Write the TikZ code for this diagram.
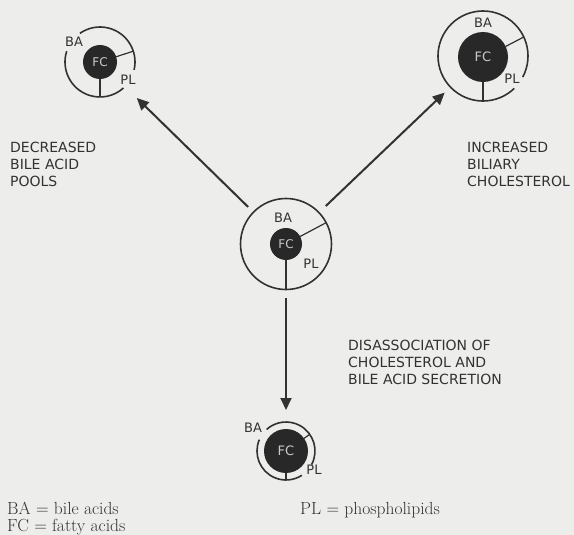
\documentclass[tikz,border=0pt]{standalone}
\usepackage{fontspec}
\newfontfamily\lettering{DejaVu Sans}
\usetikzlibrary{arrows.meta}
\definecolor{paper}{RGB}{237,237,235}
\definecolor{ink}{RGB}{50,50,50}
\definecolor{corefill}{RGB}{40,40,40}
\tikzset{
  ring/.style={circle, inner sep=0pt, outer sep=0pt, minimum size=#1},
  coredisk/.style={circle, fill=corefill, inner sep=0pt, outer sep=0pt, minimum size=#1, text=paper!85!black, font=\lettering\fontsize{12}{12}\selectfont},
  rim/.style={draw=ink, line width=1.6pt},
  spoke/.style={draw=ink, line width=1.2pt},
  lab/.style={text=ink, font=\lettering\fontsize{13}{13}\selectfont, inner sep=0pt},
  caption/.style={text=ink, font=\lettering\fontsize{14}{17}\selectfont, align=left, inner sep=0pt, anchor=north west},
  legend/.style={text=ink, font=\fontsize{17.5}{17}\selectfont, inner sep=0pt, anchor=base west},
  flow/.style={draw=ink, line width=2pt, -{Triangle[length=12pt,width=11pt]}},
}
\begin{document}
\begin{tikzpicture}[x=1pt,y=1pt]
\fill[paper] (0,0) rectangle (574,-535);
\useasboundingbox (0,0) rectangle (574,-535);

% top-left: decreased bile acid pools
\node[ring=70pt] (c1) at (100,-62) {};
\node[coredisk=34pt] (f1) at (100,-62) {FC};
\draw[rim] (c1.-13) arc[start angle=-13,end angle=125,radius=35pt];
\draw[rim] (c1.162) arc[start angle=162,end angle=312,radius=35pt];
\draw[spoke] (f1.18) -- (c1.18);
\draw[spoke] (f1.south) -- (c1.south);
\node[lab] (b1) at (74,-42) {BA};
\node[lab] (p1) at (128,-80) {PL};

% top-right: increased biliary cholesterol
\node[ring=90pt] (c2) at (483,-56) {};
\node[coredisk=50pt, font=\lettering\fontsize{13}{13}\selectfont] (f2) at (483,-57) {FC};
\draw[rim] (c2.-28) arc[start angle=-28,end angle=314,radius=45pt];
\draw[spoke] (f2.25) -- (c2.25);
\draw[spoke] (f2.south) -- (c2.south);
\node[lab] (b2) at (483,-23) {BA};
\node[lab] (p2) at (512,-79) {PL};

% centre: normal bile
\node[ring=91pt] (c3) at (286,-244) {};
\node[coredisk=32pt] (f3) at (286,-244) {FC};
\draw[rim] (c3.center) circle[radius=45.5pt];
\draw[spoke] (f3.28) -- (c3.28);
\draw[spoke] (f3.south) -- (c3.south);
\node[lab] (b3) at (283,-218) {BA};
\node[lab] (p3) at (311,-264) {PL};

% bottom: dissociation
\node[ring=58pt] (c4) at (286,-451) {};
\node[coredisk=44pt, font=\lettering\fontsize{13}{13}\selectfont] (f4) at (286,-451) {FC};
\draw[rim] (c4.-28) arc[start angle=-28,end angle=132,radius=29pt];
\draw[rim] (c4.157) arc[start angle=157,end angle=303,radius=29pt];
\draw[spoke] (f4.35) -- (c4.35);
\draw[spoke] (f4.south) -- (c4.south);
\node[lab] (b4) at (253,-428) {BA};
\node[lab] (p4) at (314,-470) {PL};

% arrows
\draw[flow, shorten <=7.5pt, shorten >=16.5pt] (c3) -- (c1);
\draw[flow, shorten <=9.5pt, shorten >=8pt] (c3) -- (c2);
\draw[flow, shorten <=8.5pt, shorten >=12pt] (c3) -- (c4);

% captions
\node[caption] (t1) at (10,-142) {DECREASED\\BILE ACID\\POOLS};
\node[caption] (t2) at (467,-142) {INCREASED\\BILIARY\\CHOLESTEROL};
\node[caption] (t3) at (348,-340) {DISASSOCIATION OF\\CHOLESTEROL AND\\BILE ACID SECRETION};

% legend
\node[legend] (k1) at (7,-514.5) {BA = bile acids};
\node[legend] (k2) at (7,-531.5) {FC = fatty acids};
\node[legend] (k3) at (300,-514.5) {PL = phospholipids};
\end{tikzpicture}
\end{document}
